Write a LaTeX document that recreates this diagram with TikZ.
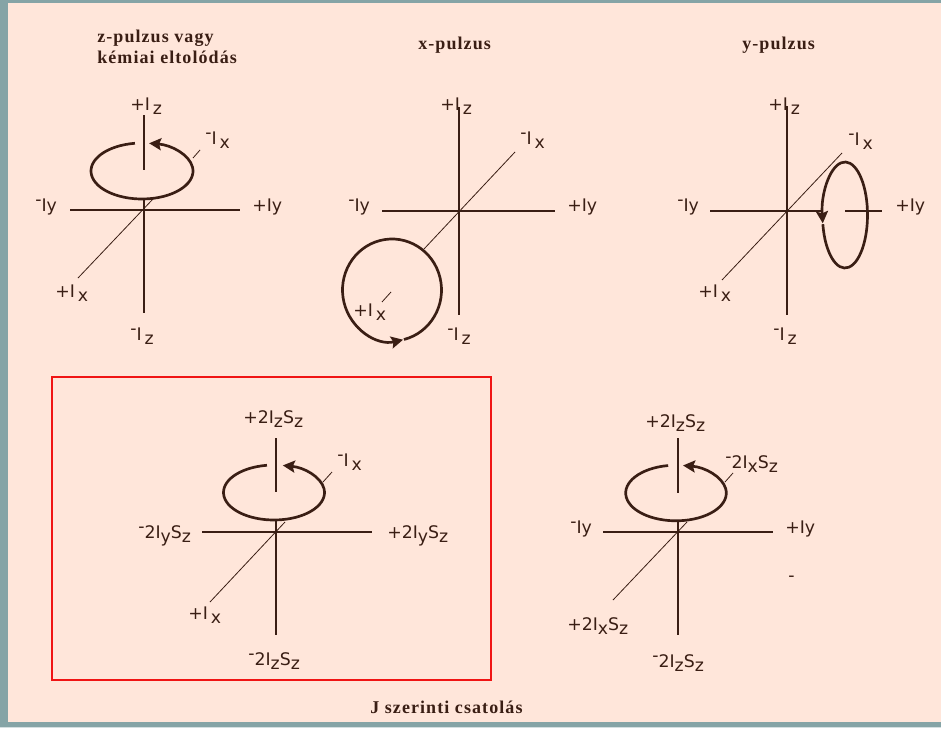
\documentclass[tikz,border=0pt]{standalone}
\usepackage{fontspec}
\usetikzlibrary{arrows.meta}
\newfontfamily\labelfont{DejaVu Sans}
\newfontfamily\titlefont{Liberation Serif}[LetterSpace=6]
\definecolor{pageteal}{RGB}{133,164,166}
\definecolor{pagepeach}{RGB}{255,230,218}
\definecolor{inkbrown}{RGB}{58,30,20}
\definecolor{boxred}{RGB}{240,20,20}
\newcommand{\lowr}[1]{\raisebox{-3.5pt}{#1}}
\newcommand{\upmin}{\raisebox{4pt}{-}}

\begin{document}
\begin{tikzpicture}[x=0.75pt, y=-0.75pt,
  lbl/.style={font=\labelfont\fontsize{13}{15}\selectfont, text=inkbrown, inner sep=0pt, anchor=base west},
  ttl/.style={font=\titlefont\bfseries\fontsize{13.5}{16}\selectfont, text=inkbrown, inner sep=0pt, anchor=base west},
  axis/.style={draw=inkbrown, line width=1.1pt},
  diag/.style={draw=inkbrown, line width=0.6pt},
  ring/.style={draw=inkbrown, line width=2pt, -{Stealth[length=9pt,width=9pt,inset=1.5pt]}}]

  \fill[pageteal] (0,0) rectangle (941,728);
  \fill[pagepeach] (8,3) rectangle (941,722);
  \fill[pageteal!35] (0,726.7) rectangle (941,728);
  \useasboundingbox (0,0) rectangle (941,728);

  \node[ttl] (ztitle) at (97,42) {z-pulzus vagy};
  \node[ttl] (ztitleb) at (97,63) {kémiai eltolódás};
  \node[ttl] (xtitle) at (418,49) {x-pulzus};
  \node[ttl] (ytitle) at (742,49) {y-pulzus};
  \node[ttl] (jtitle) at (370,713) {J szerinti csatolás};

  \draw[axis] (144,115) -- (144,170);
  \draw[axis] (144,199) -- (144,313);
  \draw[axis] (70,210) -- (240,210);
  \draw[diag] (78,278) -- (153,199);
  \draw[diag] (193,158) -- (200,150);
  \draw[ring] (142,171) ++(262:51 and 28) arc[start angle=262, end angle=-82, x radius=51, y radius=28];
  \node[lbl] (zpz) at (130,110) {+I\,\lowr{z}};
  \node[lbl] (zmx) at (205,144) {\upmin I\,\lowr{x}};
  \node[lbl] (zmy) at (35,211) {\upmin Iy};
  \node[lbl] (zpy) at (252,211) {+Iy};
  \node[lbl] (zpx) at (55,297) {+I\,\lowr{x}};
  \node[lbl] (zmz) at (130,340) {\upmin I\,\lowr{z}};

  \draw[axis] (459,107) -- (459,315);
  \draw[axis] (382,211) -- (555,211);
  \draw[diag] (424,249) -- (515,152);
  \draw[diag] (382,302) -- (391,292);
  \draw[ring] (392,290) ++(76:49.5 and 51) arc[start angle=76, end angle=-283, x radius=49.5, y radius=51];
  \node[lbl] (xpz) at (440,110) {+I\,\lowr{z}};
  \node[lbl] (xmx) at (520,144) {\upmin I\,\lowr{x}};
  \node[lbl] (xmy) at (348,211) {\upmin Iy};
  \node[lbl] (xpy) at (567,211) {+Iy};
  \node[lbl] (xpx) at (353,316) {+I\,\lowr{x}};
  \node[lbl] (xmz) at (447,340) {\upmin I\,\lowr{z}};

  \draw[axis] (787,106) -- (787,315);
  \draw[axis] (710,211) -- (823,211);
  \draw[axis] (845,211) -- (882,211);
  \draw[diag] (722,280) -- (842,153);
  \draw[ring] (845,215) ++(170:22.5 and 53) arc[start angle=170, end angle=-189, x radius=22.5, y radius=53];
  \node[lbl] (ypz) at (768,110) {+I\,\lowr{z}};
  \node[lbl] (ymx) at (848,145) {\upmin I\,\lowr{x}};
  \node[lbl] (ymy) at (677,211) {\upmin Iy};
  \node[lbl] (ypy) at (895,211) {+Iy};
  \node[lbl] (ypx) at (698,297) {+I\,\lowr{x}};
  \node[lbl] (ymz) at (773,340) {\upmin I\,\lowr{z}};

  \draw[boxred, line width=1.5pt] (52,377) rectangle (491,680);
  \draw[axis] (276,438) -- (276,492);
  \draw[axis] (276,520) -- (276,635);
  \draw[axis] (202,532) -- (372,532);
  \draw[diag] (210,602) -- (285,522);
  \draw[diag] (323,482) -- (332,472);
  \draw[ring] (274,492.5) ++(262:50.5 and 27.5) arc[start angle=262, end angle=-80, x radius=50.5, y radius=27.5];
  \node[lbl] (jpz) at (243,423) {+2I\lowr{z}S\lowr{z}};
  \node[lbl] (jmx) at (337,466) {\upmin I\,\lowr{x}};
  \node[lbl] (jmy) at (138,538) {\upmin 2I\lowr{y}S\lowr{z}};
  \node[lbl] (jpy) at (387,538) {+2I\lowr{y}S\lowr{z}};
  \node[lbl] (jpx) at (188,619) {+I\,\lowr{x}};
  \node[lbl] (jmz) at (248,665) {\upmin 2I\lowr{z}S\lowr{z}};

  \draw[axis] (678,438) -- (678,493);
  \draw[axis] (678,521) -- (678,635);
  \draw[axis] (603,532) -- (773,532);
  \draw[diag] (613,600) -- (687,522);
  \draw[diag] (725,482) -- (733,473);
  \draw[ring] (676,493) ++(261:50.3 and 27.8) arc[start angle=261, end angle=-82, x radius=50.3, y radius=27.8];
  \node[lbl] (kpz) at (645,427) {+2I\lowr{z}S\lowr{z}};
  \node[lbl] (kmx) at (725,468) {\upmin 2I\lowr{x}S\lowr{z}};
  \node[lbl] (kmy) at (570,533) {\upmin Iy};
  \node[lbl] (kpy) at (785,533) {+Iy};
  \node[lbl] (kdash) at (788,581) {-};
  \node[lbl] (kpx) at (567,630) {+2I\lowr{x}S\lowr{z}};
  \node[lbl] (kmz) at (652,667) {\upmin 2I\lowr{z}S\lowr{z}};
\end{tikzpicture}
\end{document}
